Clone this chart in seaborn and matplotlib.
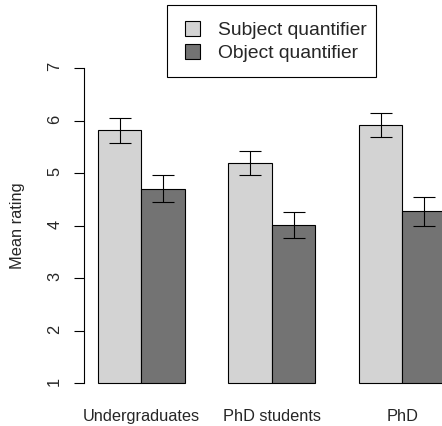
import matplotlib
matplotlib.use("Agg")
import matplotlib.pyplot as plt
import matplotlib.patches as mpatches
import seaborn as sns
import pandas as pd

sns.set_style("white")
plt.rcParams['font.family'] = ['Liberation Sans', 'DejaVu Sans']

groups = ["Undergraduates", "PhD students", "PhD"]
series = ["Subject quantifier", "Object quantifier"]
subject_means = [5.81, 5.19, 5.91]
subject_errs = [0.23, 0.23, 0.225]
object_means = [4.70, 4.01, 4.27]
object_errs = [0.26, 0.24, 0.28]
y_ticks = [1, 2, 3, 4, 5, 6, 7]
y_label = "Mean rating"

light = "#D3D3D3"
dark = "#737373"

df = pd.DataFrame({
    "group": groups * 2,
    "quantifier": [series[0]] * 3 + [series[1]] * 3,
    "rating": subject_means + object_means,
})

W, H = 442, 426
fig = plt.figure(figsize=(W / 100, H / 100), dpi=100)
ax = fig.add_axes([84 / W, 1 - 395.6 / H, (W - 84) / W, (395.6 - 55.4) / H])

sns.barplot(data=df, x="group", y="rating", hue="quantifier", order=groups,
            hue_order=series, palette=[light, dark], width=2 / 3, saturation=1,
            edgecolor="black", linewidth=0.8, errorbar=None, legend=False, ax=ax)

# bars rise from the baseline 1 of the rating scale
for cont in ax.containers:
    for p in cont:
        h = p.get_height()
        p.set_y(1)
        p.set_height(h - 1)

for cont, means, errs in zip(ax.containers, [subject_means, object_means],
                             [subject_errs, object_errs]):
    xs = [p.get_x() + p.get_width() / 2 for p in cont]
    ax.errorbar(xs, means, yerr=errs, fmt="none", ecolor="black",
                elinewidth=0.8, capsize=8.2, capthick=0.8, zorder=5)

ax.set_xlim(-0.44, 2.303)
ax.set_ylim(0.76, 7.24)
ax.set_yticks(y_ticks)
ax.set_yticklabels([str(t) for t in y_ticks])
for s in ["top", "right", "bottom"]:
    ax.spines[s].set_visible(False)
ax.spines["left"].set_bounds(1, 7)
ax.spines["left"].set_linewidth(0.8)
ax.spines["left"].set_color("black")
ax.tick_params(axis="y", length=7.2, width=0.8, pad=8.5, labelsize=11.8,
               labelrotation=90, color="black", left=True)
ax.tick_params(axis="x", length=0, pad=9.5, labelsize=11.8)
ax.set_xlabel("")
ax.set_ylabel(y_label, fontsize=11.8)
ax.yaxis.set_label_coords(-0.165, 0.5)
ax.grid(False)

# legend
handles = [mpatches.Patch(facecolor=c, edgecolor="black", linewidth=0.8)
           for c in [light, dark]]
leg = fig.legend(handles, series, loc="upper left",
                 bbox_to_anchor=(185 / W, 1 - 21 / H), frameon=False,
                 fontsize=13.9, borderpad=0, borderaxespad=0,
                 handlelength=0.78, handleheight=0.78, handletextpad=0.92,
                 labelspacing=0.28)
fig.patches.append(mpatches.Rectangle((167 / W, 1 - 76.7 / H),
                                      (376.3 - 167) / W, (76.7 - 4.7) / H,
                                      transform=fig.transFigure,
                                      facecolor="white", edgecolor="black",
                                      linewidth=0.8, zorder=0))

fig.savefig("out.png", dpi=100)
